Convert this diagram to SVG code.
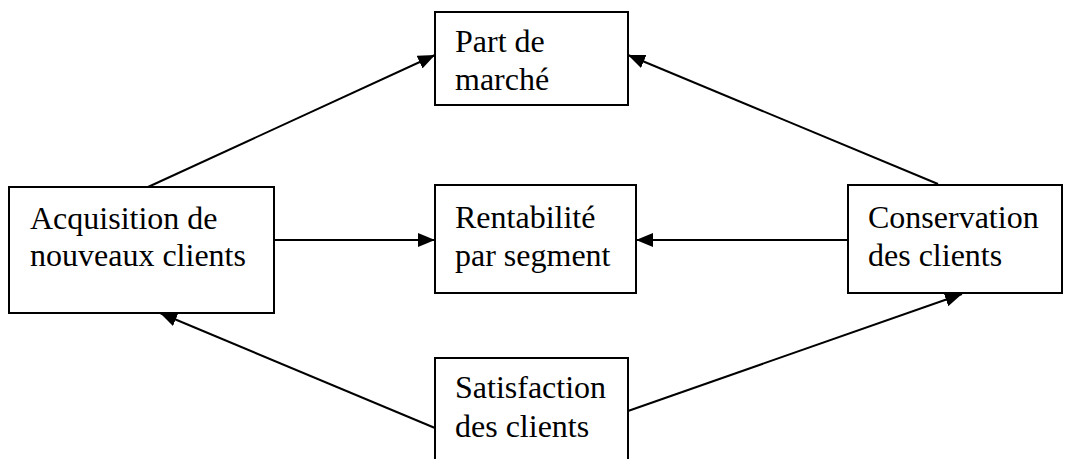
<svg xmlns="http://www.w3.org/2000/svg" width="1074" height="459" viewBox="0 0 1074 459">
  <style>
    .box { fill: #ffffff; stroke: #000000; stroke-width: 2; }
    .label { font-family: "Liberation Serif", "Times New Roman", Times, "Noto Serif", "DejaVu Serif", serif; font-size: 32px; fill: #000000; }
    .link { stroke: #000000; stroke-width: 2; fill: none; marker-end: url(#arrow); }
  </style>
  <defs>
    <marker id="arrow" markerUnits="userSpaceOnUse" markerWidth="18" markerHeight="14" refX="17" refY="7" orient="auto">
      <path d="M0,0 L17,7 L0,14 z" fill="#000000"/>
    </marker>
  </defs>
  <rect width="1074" height="459" fill="#ffffff"/>

  <!-- connectors -->
  <g id="connectors">
    <line class="link" x1="148" y1="187" x2="435" y2="55"/>
    <line class="link" x1="938" y1="184" x2="628" y2="55"/>
    <line class="link" x1="274" y1="240" x2="435" y2="240"/>
    <line class="link" x1="848" y1="240" x2="636" y2="240"/>
    <line class="link" x1="435" y1="428" x2="160" y2="313"/>
    <line class="link" x1="628" y1="411" x2="962" y2="294"/>
  </g>

  <g id="part-de-marche">
    <rect class="box" x="435" y="12" width="193" height="93"/>
    <text class="label" x="455" y="52">Part de</text>
    <text class="label" x="455" y="90">marché</text>
  </g>

  <g id="acquisition">
    <rect class="box" x="9" y="187" width="265" height="126"/>
    <text class="label" x="30" y="229">Acquisition de</text>
    <text class="label" x="30" y="266">nouveaux clients</text>
  </g>

  <g id="rentabilite">
    <rect class="box" x="435" y="185" width="201" height="108"/>
    <text class="label" x="455" y="228">Rentabilité</text>
    <text class="label" x="455" y="266">par segment</text>
  </g>

  <g id="conservation">
    <rect class="box" x="848" y="185" width="214" height="108"/>
    <text class="label" x="868" y="228">Conservation</text>
    <text class="label" x="868" y="266">des clients</text>
  </g>

  <g id="satisfaction">
    <rect class="box" x="435" y="358" width="193" height="112"/>
    <text class="label" x="455" y="398">Satisfaction</text>
    <text class="label" x="455" y="437">des clients</text>
  </g>
</svg>
